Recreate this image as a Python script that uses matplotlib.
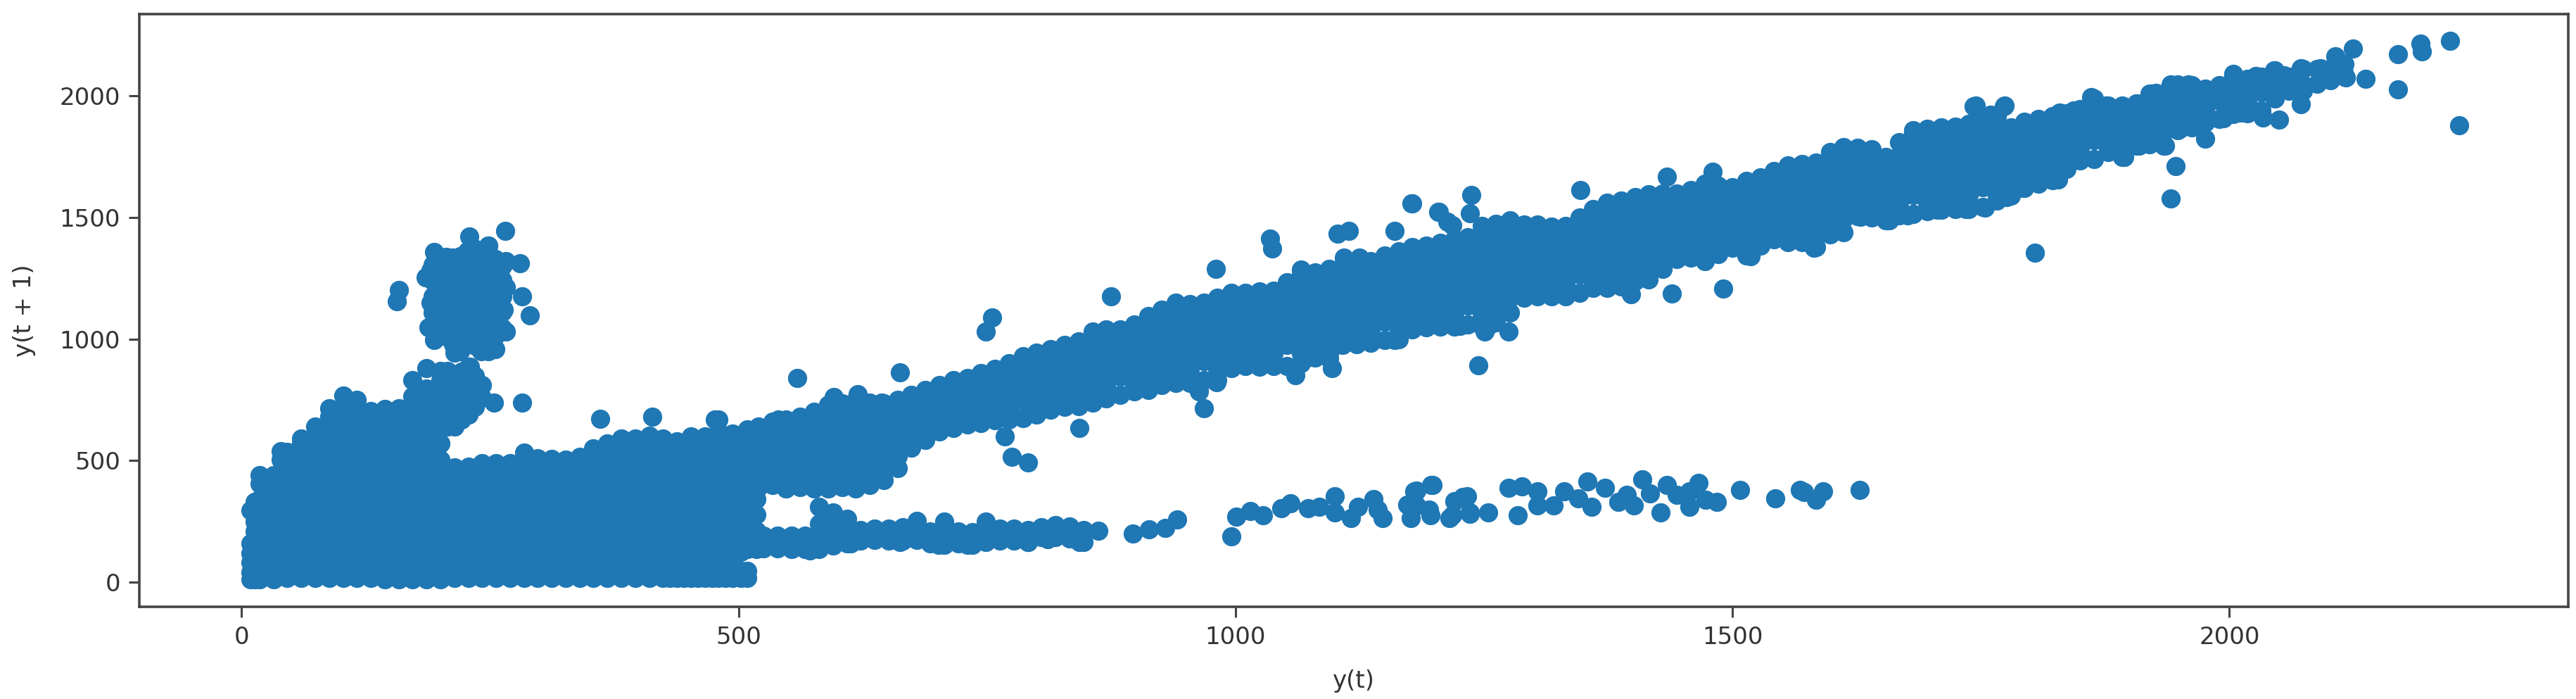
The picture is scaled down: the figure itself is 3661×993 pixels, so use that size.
import matplotlib
matplotlib.use("Agg")
import matplotlib.pyplot as plt

xlabel_text = "y(t)"
ylabel_text = "y(t + 1)"
x_ticks = [0, 500, 1000, 1500, 2000]
y_ticks = [0, 500, 1000, 1500, 2000]

# Dense lower-left mass: x, then the y values seen at that x
low_columns = [
 (9,[12,40,80,120,160,295]),(13,[12,50,90,130,170,210,250,290,330]),
 (18,[12,82,147,212,277,342,407,440]),(32,[12,50,115,180,245,310,375,440]),
 (39,[440,505,540]),
 (46,[17,50,82,147,212,277,342,407,472,537]),
 (60,[17,50,115,180,245,310,375,440,505,570,590]),
 (74,[17,50,82,147,212,277,342,407,472,537,602,640]),
 (88,[17,50,115,180,245,310,375,440,505,570,635,680,715]),
 (102,[17,50,82,147,212,277,342,407,472,537,602,667,730,767]),
 (116,[17,50,115,180,245,310,375,440,505,570,635,700,750]),
 (130,[17,50,82,147,212,277,342,407,472,537,602,667,705]),
 (144,[12,50,115,180,245,310,375,440,505,570,635,700,712]),
 (158,[12,50,82,147,212,277,342,407,472,537,602,667,715]),
 (172,[12,50,115,180,245,310,375,440,505,570,635,700,765,830]),
 (186,[12,50,82,147,212,277,342,407,472,537,602,667,732,797,880]),
 (200,[12,50,115,180,245,310,375,440,505,570,635,700,765,830,870]),
 (214,[17,50,82,147,212,277,342,407,472,640,705,770,835]),
 (228,[17,50,115,180,245,310,375,440,475,690,755,820,885]),
 (242,[17,50,82,147,212,277,342,407,472,490,760,810]),
 (256,[17,50,115,180,245,310,375,440,490]),
 (270,[17,50,82,147,212,277,342,407,472,490]),
 (284,[17,50,115,180,245,310,375,440,505,532]),
 (298,[17,50,82,147,212,277,342,407,472,510]),
 (312,[17,50,115,180,245,310,375,440,508]),
 (326,[17,50,82,147,212,277,342,407,472,505]),
 (340,[17,50,115,180,245,310,375,440,505,515]),
 (354,[17,50,82,147,212,277,342,407,472,537,550]),
 (368,[17,50,115,180,245,310,375,440,505,570]),
 (382,[17,50,82,147,212,277,342,407,472,537,590]),
 (396,[17,50,115,180,245,310,375,440,505,570,590]),
 (410,[17,50,82,147,212,277,342,407,472,537,602]),
 (424,[17,50,85,115,180,245,310,375,440,505,570,590]),
 (431,[17,46,85,120]),
 (438,[17,46,113,147,212,277,342,407,472,537,578]),
 (445,[17,46,113,180]),
 (452,[17,46,115,180,245,310,375,440,505,570,600]),
 (459,[17,46,113,147]),
 (466,[17,46,113,147,212,277,342,407,472,537,600]),
 (473,[17,46,113,180]),
 (480,[17,46,115,180,245,310,375,440,505,570,620,670]),
 (487,[17,46,113,147]),
 (494,[17,46,113,147,212,277,342,407,472,537,602,612]),
 (502,[17,46,125,180]),
 (509,[17,46,136,180,245,310,375,440,505,570,630]),
 (518,[136,147,212,277,342]),
]

# Main diagonal band
band_columns = [
 (520,[390,455,520,585,640]),(534,[400,422,487,552,617,660]),(548,[385,455,520,585,650,670]),(562,[390,422,487,552,617,680]),
 (576,[385,455,520,585,650,700]),(590,[385,422,487,552,617,682,730]),(604,[390,455,520,585,650,715,735]),(618,[385,422,487,552,617,682,747]),
 (632,[400,455,520,585,650,715,740]),(646,[420,487,552,617,682,735]),(660,[470,520,585,650,715,750]),(674,[552,617,682,747,770]),
 (688,[585,650,715,780,790]),(702,[620,682,747,812]),(716,[635,650,715,780,830]),(730,[650,682,747,812,840]),
 (744,[655,715,780,845,860]),(758,[665,682,747,812,877]),(772,[670,715,780,845,900]),(786,[675,747,812,877,930]),
 (800,[690,715,780,845,910,945]),(814,[710,747,812,877,942,960]),(828,[720,780,845,910,975]),(842,[725,747,812,877,942,990]),
 (856,[740,780,845,910,975,1030]),(870,[755,812,877,942,1007,1040]),(884,[770,845,910,975,1040]),(898,[785,812,877,942,1007,1060]),
 (912,[790,845,910,975,1040,1095]),(926,[810,877,942,1007,1072,1120]),(940,[820,845,910,975,1040,1105,1150]),(954,[820,877,942,1007,1072,1137,1145]),
 (968,[830,910,975,1040,1105,1150]),(982,[830,877,942,1007,1072,1137,1170]),(996,[880,910,975,1040,1105,1170,1190]),(1010,[890,942,1007,1072,1137,1190]),
 (1024,[885,910,975,1040,1105,1170,1195]),(1038,[890,942,1007,1072,1137,1200]),(1052,[890,975,1040,1105,1170,1235]),(1066,[900,942,1007,1072,1137,1202,1267,1285]),
 (1080,[925,975,1040,1105,1170,1235,1275]),(1094,[920,942,1007,1072,1137,1202,1267,1290]),(1108,[975,1040,1105,1170,1235,1300]),(1122,[980,1007,1072,1137,1202,1267,1300]),
 (1136,[985,1040,1105,1170,1235,1300,1320]),(1150,[995,1072,1137,1202,1267,1332,1345]),(1164,[1000,1040,1105,1170,1235,1300,1360]),(1178,[1040,1072,1137,1202,1267,1332,1380]),
 (1192,[1048,1105,1170,1235,1300,1365,1385]),(1206,[1050,1072,1137,1202,1267,1332,1397]),(1220,[1050,1105,1170,1235,1300,1365,1410]),(1234,[1060,1137,1202,1267,1332,1397,1420]),
 (1248,[1055,1105,1170,1235,1300,1365,1430,1465]),(1262,[1070,1137,1202,1267,1332,1397,1462,1475]),(1276,[1110,1170,1235,1300,1365,1430,1489]),(1290,[1170,1202,1267,1332,1397,1462,1470]),
 (1304,[1175,1235,1300,1365,1430,1470]),(1318,[1175,1202,1267,1332,1397,1462]),(1332,[1175,1235,1300,1365,1430,1465]),(1346,[1190,1267,1332,1397,1462,1500]),
 (1360,[1210,1235,1300,1365,1430,1495,1535]),(1374,[1210,1267,1332,1397,1462,1527,1560]),(1388,[1215,1235,1300,1365,1430,1495,1560,1570]),(1402,[1240,1267,1332,1397,1462,1527,1585]),
 (1416,[1245,1300,1365,1430,1495,1560,1595]),(1430,[1290,1332,1397,1462,1527,1592,1600]),(1444,[1330,1365,1430,1495,1560,1600]),(1458,[1334,1397,1462,1527,1592,1614]),
 (1472,[1320,1365,1430,1495,1560,1625,1640]),(1486,[1350,1397,1462,1527,1592,1630]),(1500,[1375,1430,1495,1560,1625]),(1514,[1345,1397,1462,1527,1592,1650]),
 (1528,[1385,1430,1495,1560,1625,1665]),(1542,[1410,1462,1527,1592,1657,1690]),(1556,[1400,1430,1495,1560,1625,1690,1715]),(1570,[1400,1462,1527,1592,1657,1720]),
 (1584,[1380,1430,1495,1560,1625,1690,1725]),(1598,[1430,1462,1527,1592,1657,1722,1770]),(1612,[1440,1495,1560,1625,1690,1755,1790]),(1626,[1505,1527,1592,1657,1722,1787]),
 (1640,[1500,1560,1625,1690,1755,1780]),(1654,[1490,1527,1592,1657,1722,1750]),(1668,[1510,1560,1625,1690,1755,1810]),(1682,[1515,1592,1657,1722,1787,1852,1860]),
 (1696,[1525,1560,1625,1690,1755,1820,1865]),(1710,[1532,1592,1657,1722,1787,1852,1870]),(1724,[1535,1560,1625,1690,1755,1820,1875]),(1738,[1535,1592,1657,1722,1787,1852,1885]),
 (1752,[1545,1625,1690,1755,1820,1885,1900]),(1766,[1570,1592,1657,1722,1787,1852,1917]),(1780,[1590,1625,1690,1755,1820,1870]),(1794,[1625,1657,1722,1787,1852,1895]),
 (1808,[1640,1690,1755,1820,1885,1905]),(1822,[1655,1722,1787,1852,1917]),(1836,[1700,1755,1820,1885,1930]),(1850,[1735,1787,1852,1917,1945]),
 (1864,[1740,1820,1885,1950,1990]),(1878,[1770,1787,1852,1917,1960]),(1892,[1750,1820,1885,1950,1960]),(1906,[1795,1852,1917,1970]),
 (1920,[1800,1820,1885,1950,2010]),(1934,[1795,1852,1917,1982,2010]),(1948,[1860,1885,1950,2015,2047]),(1962,[1870,1917,1982,2045]),
 (1976,[1890,1950,2015,2030]),(1990,[1905,1982,2045]),(2004,[1925,1950,2015,2080,2090]),(2018,[1930,1982,2047,2070]),
 (2032,[1940,2015,2080]),(2046,[1990,2047,2105]),(2060,[2020,2080]),(2074,[2020,2047,2112]),
 (2088,[2050,2110]),(2102,[2065,2112]),(2116,[2078,2130]),
]

# Lower streak, left part
streak_columns = [
 (525,[140,190]),(539,[140,190]),(553,[135,190]),(567,[135,190]),(581,[135,185,240,309]),(595,[150,200,250,286]),
 (609,[160,205,260]),(623,[170,215]),(637,[175,220]),(651,[170,220]),(665,[170,225]),(679,[175,215,252]),(693,[160,210]),
 (707,[155,205,250]),(721,[160,210]),(735,[155,205]),(749,[165,210,250]),(763,[170,220]),(777,[170,220]),(791,[165,215]),
 (805,[185,225]),(819,[185,235]),(833,[180,230]),(847,[165,215]),
]

# Separate dots of the lower streak, right part
streak_x = [862,897,913,929,941,996,1001,1015,1028,1046,1055,1073,1084,1100,1100,1116,1123,1139,1143,1148,1173,1176,1182,1197,1195,1215,1220,1233,1236,
            1180,1198,1182,1196,1218,1229,1236,1254,1275,1288,1284,1304,1304,1320,1331,1345,1354,1358,1372,1385,1401,1394,1409,1417,1428,1434,1444,1457,1466,1457,1473,1484,1508,1543,1568,1572,1591,1584,1628]
streak_y = [212,200,218,223,258,189,269,292,275,303,326,303,309,355,286,263,309,343,298,263,320,263,378,401,298,263,332,355,280,
            373,401,317,274,274,352,288,288,387,394,274,373,317,317,373,345,415,310,387,331,317,359,422,366,288,401,359,310,408,373,338,331,380,345,380,370,373,338,380]

# Cloud above the mass, and the neck joining it to the mass
cloud_columns = [
 (192,[1110,1175,1240,1305]),(199,[1045,1142,1207,1272]),(206,[1012,1077,1142,1207,1272,1337]),(213,[980,1045,1110,1175,1240,1305]),
 (220,[950,1015,1080,1145,1210,1275,1340]),(227,[982,1047,1112,1177,1242,1307,1360]),
 (234,[982,1047,1112,1177,1242,1307,1372]),(241,[950,1015,1080,1145,1210,1275,1340]),
 (248,[950,1015,1080,1145,1210,1275,1340,1385]),(255,[1015,1080,1145,1210,1275,1330]),(262,[1047,1112,1177,1242,1300]),
 (207,[640,700,765,830,870]),(221,[670,735,800,865]),(235,[720,785,850]),
]
cloud_x = [265,229,248,194,212,280,266,185,190,158,156,190,196,282,290,266,264,266,188,194,255,214,235,230,254,282]
cloud_y = [1445,1422,1385,1357,1334,1311,1322,1254,1282,1202,1156,1151,1110,1176,1097,1214,1122,1031,1048,996,960,945,973,885,739,739]

# Dots standing off the band
stray_x = [559,662,875,755,749,980,1035,1037,1103,1114,1160,1177,1109,1125,1204,1213,1237,1236,1178,1205,1218,1347,1434,1480,
           768,775,791,843,968,963,981,1060,1075,1097,1160,1244,1251,1275,1254,1226,1398,1439,1491,1518,1582,1804,
           2222,2192,2194,2170,2170,2137,2124,2107,2231,1941,1946,1976,1735,1754,1776,1792,1828,1839,2034,2050,2072,
           1743,1773,1760,1861,1745,1774,1828,1794,1706,1676,1658,1629,361,413,476,540,596,620,644,
           613,662,701,730,791,811,843,572]
stray_y = [841,864,1177,1088,1031,1288,1414,1372,1434,1445,1446,1557,1334,1334,1523,1483,1594,1517,1559,1524,1468,1612,1668,1689,
           601,515,492,635,715,784,824,853,927,881,996,893,1030,1030,1054,1054,1184,1187,1208,1341,1376,1355,
           2228,2216,2183,2173,2026,2072,2194,2163,1880,1577,1713,1824,1535,1542,1584,1623,1657,1729,1912,1903,1965,
           1959,1959,1924,1994,1961,1961,1917,1622,1531,1510,1489,1503,672,681,670,670,761,773,738,
           160,166,155,155,166,177,166,132]

# Last stretch of the band
end_x = [2015,2027,2045,2055,2072,2092,2115,2117,1994,2012,1907,1926,1941,1959,1977,1829,1843,1876,1894,1909,1935,1950]
end_y = [2000,2081,2105,2086,2115,2115,2096,2076,1908,1932,1970,2014,2047,2047,2028,1932,1941,1961,1748,1796,1796,1864]

xs, ys = [], []
for columns in (low_columns, band_columns, streak_columns, cloud_columns):
    for x, values in columns:
        xs.extend([x] * len(values))
        ys.extend(values)
xs += streak_x + cloud_x + stray_x + end_x
ys += streak_y + cloud_y + stray_y + end_y

W, H = 3662, 993
fig = plt.figure(figsize=(W / 100, H / 100), dpi=100)
ax = fig.add_axes([198 / W, 1 - 862 / H, (3650 - 198) / W, (862 - 20) / H])
ax.scatter(xs, ys, s=385, c="#1f77b4", linewidths=0)
ax.set_xlim(-103, 2341)
ax.set_ylim(-101, 2337)
ax.set_xticks(x_ticks)
ax.set_yticks(y_ticks)
ax.set_xlabel(xlabel_text, fontsize=24.5, labelpad=21)
ax.set_ylabel(ylabel_text, fontsize=24.5, labelpad=24)
ax.tick_params(labelsize=24.5, width=2.2, length=10.5, pad=9, color="#444444", labelcolor="#333333")
ax.xaxis.label.set_color("#333333")
ax.yaxis.label.set_color("#333333")
for s in ax.spines.values():
    s.set_linewidth(2.6)
    s.set_color("#444444")
fig.savefig("out.png", dpi=100)
